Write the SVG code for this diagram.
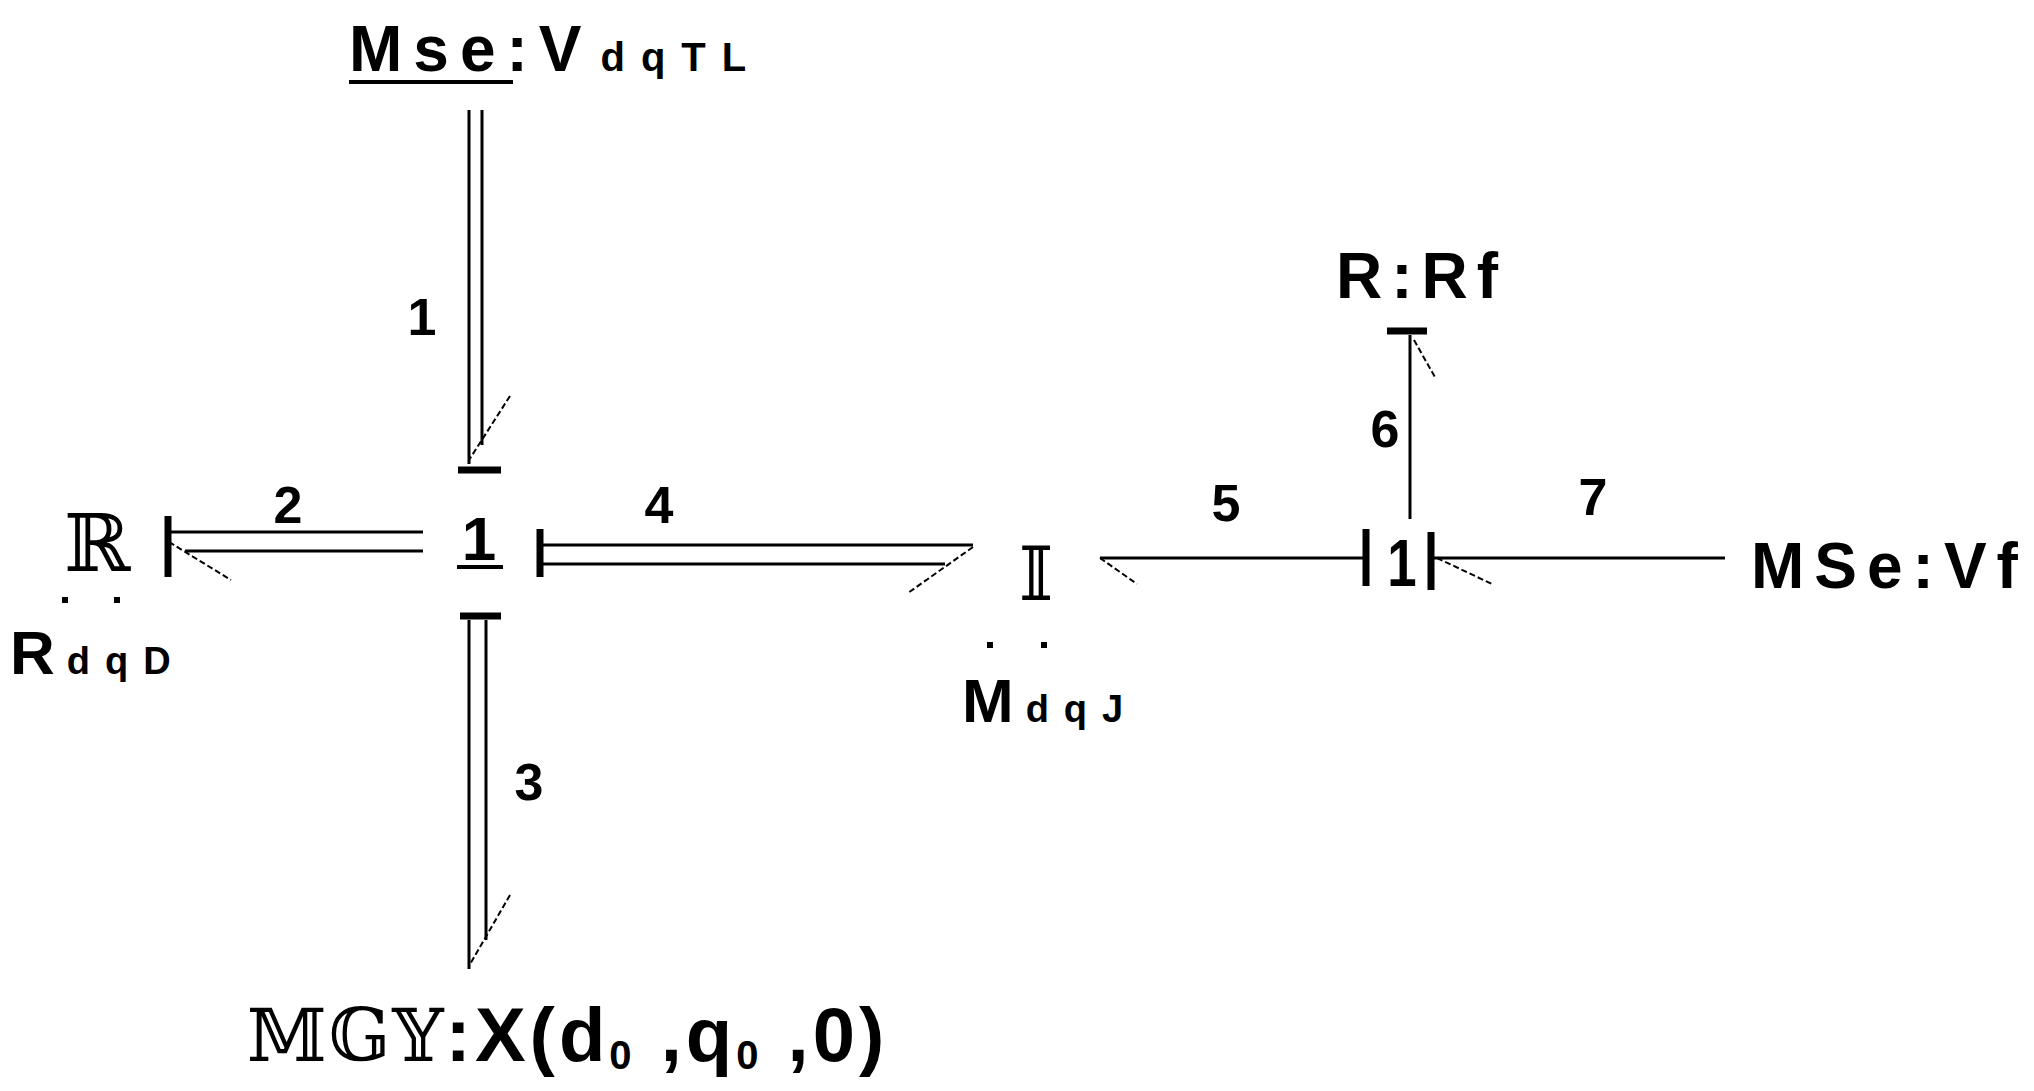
<svg xmlns="http://www.w3.org/2000/svg" width="2034" height="1091" viewBox="0 0 2034 1091">
<style>
.t{font-family:"Liberation Sans",Arial,sans-serif;font-weight:bold;fill:#000}
.ds{font-family:"DejaVu Serif","DejaVu Sans",serif;fill:#000}
.l{stroke:#000;stroke-width:3;fill:none}
.tk{stroke:#000;stroke-width:7;fill:none}
.h{stroke:#000;stroke-width:2;fill:none;stroke-dasharray:6 3}
</style>
<rect width="2034" height="1091" fill="#fff"/>
<g id="connectors">
<line class="l" x1="469" y1="110" x2="469" y2="464"/><line class="l" x1="482" y1="110" x2="482" y2="445"/>
<line class="tk" x1="458" y1="470" x2="501" y2="470"/><line class="h" x1="510" y1="396" x2="469" y2="460"/>
<line class="l" x1="170" y1="532" x2="423" y2="532"/><line class="l" x1="185" y1="551" x2="423" y2="551"/>
<line class="tk" x1="168" y1="516" x2="168" y2="577"/><line class="h" x1="169" y1="542" x2="231" y2="580"/>
<line class="tk" x1="460" y1="616" x2="501" y2="616"/>
<line class="l" x1="469" y1="620" x2="469" y2="969"/><line class="l" x1="486" y1="620" x2="486" y2="940"/>
<line class="h" x1="510" y1="895" x2="469" y2="966"/>
<line class="l" x1="542" y1="545" x2="973" y2="545"/><line class="l" x1="542" y1="564" x2="945" y2="564"/>
<line class="tk" x1="540" y1="529" x2="540" y2="577"/><line class="h" x1="973" y1="547" x2="908" y2="593"/>
<line class="l" x1="1100" y1="558" x2="1366" y2="558"/><line class="tk" x1="1366" y1="529" x2="1366" y2="586"/>
<line class="h" x1="1100" y1="558" x2="1137" y2="584"/>
<line class="l" x1="1410" y1="335" x2="1410" y2="519"/><line class="tk" x1="1387" y1="331" x2="1427" y2="331"/>
<line class="h" x1="1414" y1="340" x2="1436" y2="379"/>
<line class="l" x1="1431" y1="558" x2="1725" y2="558"/><line class="tk" x1="1431" y1="532" x2="1431" y2="590"/>
<line class="h" x1="1437" y1="558" x2="1492" y2="584"/>
</g>
<g id="labels">
<text class="t" x="422" y="335" font-size="52" text-anchor="middle">1</text>
<text class="t" x="288" y="523" font-size="52" text-anchor="middle">2</text>
<text class="t" x="529" y="800" font-size="52" text-anchor="middle">3</text>
<text class="t" x="659" y="523" font-size="52" text-anchor="middle">4</text>
<text class="t" x="1226" y="521" font-size="52" text-anchor="middle">5</text>
<text class="t" x="1385" y="447" font-size="52" text-anchor="middle">6</text>
<text class="t" x="1593" y="515" font-size="52" text-anchor="middle">7</text>
</g>
<g id="mse-vdqtl">
<text class="t" x="349" y="71" font-size="64" letter-spacing="11">Mse:V<tspan font-size="40" letter-spacing="16" dx="8">dqTL</tspan></text>
<line x1="349" y1="82" x2="513" y2="82" stroke="#000" stroke-width="4"/>
</g>
<g id="junction-1a">
<text class="t" x="479" y="560" font-size="62" text-anchor="middle">1</text>
<line x1="457" y1="567" x2="503" y2="567" stroke="#000" stroke-width="4"/>
</g>
<g id="r-dqd">
<text class="ds" x="97" y="571" font-size="80" text-anchor="middle">ℝ</text>
<rect x="62" y="597" width="6" height="6"/><rect x="114" y="597" width="6" height="6"/>
<text class="t" x="10" y="674" font-size="62">R<tspan font-size="38" letter-spacing="15" dx="12">dqD</tspan></text>
</g>
<g id="mgy">
<text class="ds" x="247" y="1061" font-size="72" letter-spacing="2">𝕄𝔾𝕐<tspan class="t" font-size="76" letter-spacing="4">:X(d<tspan font-size="40" dy="8">0</tspan><tspan dy="-8"> ,q</tspan><tspan font-size="40" dy="8">0</tspan><tspan dy="-8"> ,0)</tspan></tspan></text>
</g>
<g id="i-mdqj">
<text class="ds" x="1036" y="600" font-size="74" text-anchor="middle">𝕀</text>
<rect x="987" y="642" width="6" height="6"/><rect x="1041" y="642" width="6" height="6"/>
<text class="t" x="962" y="722" font-size="62">M<tspan font-size="38" letter-spacing="15" dx="12">dqJ</tspan></text>
</g>
<g id="junction-1b"><text class="t" x="1402" y="586" font-size="66" text-anchor="middle" transform="translate(1402 0) scale(0.8 1) translate(-1402 0)">1</text></g>
<g id="r-rf"><text class="t" x="1336" y="298" font-size="64" letter-spacing="9">R:Rf</text></g>
<g id="mse-vf"><text class="t" x="1751" y="588" font-size="64" letter-spacing="10">MSe:Vf</text></g>
</svg>
